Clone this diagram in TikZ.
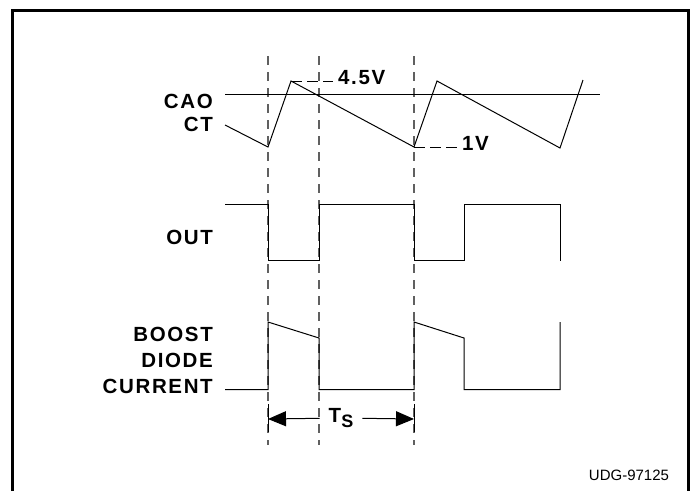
\documentclass[tikz,border=0pt]{standalone}
\usepackage{fontspec}
\setmainfont{Liberation Sans}
\newfontfamily\labfont[LetterSpace=8]{Liberation Sans}
\usetikzlibrary{arrows.meta}

\begin{document}
\begin{tikzpicture}[x=1pt,y=-1pt,
  wave/.style={line width=1pt},
  guide/.style={gray!75!black,line width=1.3pt,dash pattern=on 9pt off 7pt},
  level/.style={line width=1pt,dash pattern=on 11pt off 5pt},
  dimline/.style={line width=1pt,-{Triangle[length=18pt,width=15pt]}},
  lab/.style={anchor=east,inner sep=0pt,align=right,
    font=\labfont\fontsize{20.5}{26}\selectfont\bfseries},
  val/.style={anchor=west,inner sep=0pt,
    font=\labfont\fontsize{20.5}{22}\selectfont\bfseries}]
\useasboundingbox (0,0) rectangle (692,491);
% frame, open at the bottom
\draw[line width=3pt] (12,491) -- (12,10) -- (688,10) -- (688,491);
% switching instants
\foreach \x/\nm in {268/ta,319/tb,414/tc}{%
  \coordinate (\nm) at (\x,419);
  \draw[guide] (\x,56) -- (\x,445);
}
% CAO level and CT ramp
\draw[wave] (225,94.5) -- (600,94.5);
\coordinate (pk) at (291,81);
\coordinate (vl) at (414,147);
\draw[wave] (225,125) -- (268,147) -- (pk) -- (vl) -- (437,81)
  -- (560,148) -- (583,80);
\node[lab] (cao) at (213,101) {CAO};
\node[lab] (ct) at (213,124) {CT};
\node[val] (v45) at (338,78) {4.5V};
\node[val] (v1) at (462,143) {1V};
\draw[level] (pk) -- ([xshift=-5pt]pk -| v45.west);
\draw[level] (vl) -- ([xshift=-4pt]vl -| v1.west);
% gate drive
\draw[wave] (225,204.5) -- (268,204.5) -- (268,260.5) -- (319,260.5) -- (319,204.5)
  -- (414,204.5) -- (414,260.5) -- (464,260.5) -- (464,204.5) -- (560,204.5)
  -- (560,260.5);
\node[lab] (out) at (213,237) {OUT};
% diode current
\draw[wave] (225,389.5) -- (268,389.5) -- (268,322) -- (319,338) -- (319,389.5)
  -- (414,389.5) -- (414,322) -- (464,338) -- (464,389.5) -- (560,389.5)
  -- (560,322);
\node[lab] (boost) at (213,360) {BOOST\\DIODE\\CURRENT};
% switching period
\draw[wave] (268,404) -- (268,432);
\draw[wave] (414,404) -- (414,432);
\node[font=\fontsize{20.5}{22}\selectfont\bfseries,inner sep=9pt]
  (ts) at (341,418) {T\raisebox{-0.45ex}{\fontsize{18}{19}\selectfont S}};
\draw[dimline] (ts) -- (ta);
\draw[dimline] (ts) -- (tc);
\node[font=\fontsize{15}{17}\selectfont,inner sep=0pt] (udg) at (629,475) {UDG-97125};
\end{tikzpicture}
\end{document}
